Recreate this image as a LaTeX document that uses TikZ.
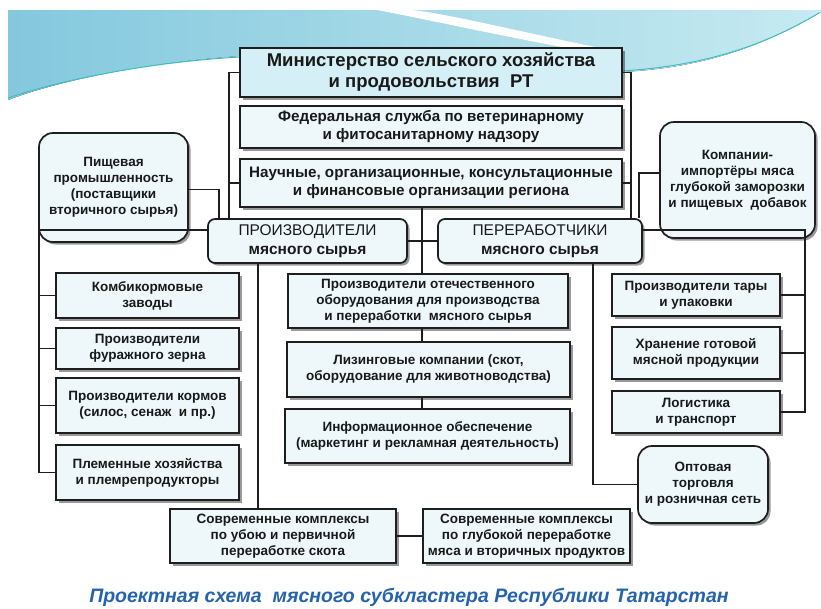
\documentclass[tikz,border=0pt]{standalone}
\usepackage{fontspec}
\setmainfont{Liberation Sans}
\usetikzlibrary{shadows,calc}
\definecolor{boxfill}{HTML}{EEF8FB}
\definecolor{minfill}{HTML}{D4EFF5}
\definecolor{lineclr}{HTML}{1E1E1E}
\definecolor{bandA}{HTML}{84C8DE}
\definecolor{bandB}{HTML}{C6EAF1}
\definecolor{bandline}{HTML}{3FBFC0}
\definecolor{titleclr}{HTML}{2563AE}
\begin{document}
\begin{tikzpicture}[x=1pt,y=-1pt,
 box/.style={draw=lineclr, line width=1.7pt, fill=boxfill, align=center, inner sep=0pt,
   font=\fontsize{13.5}{16}\selectfont\bfseries, text=black!90,
   drop shadow={shadow xshift=2.5pt, shadow yshift=-2.5pt, fill=black, opacity=0.4}},
 bigbox/.style={box, font=\fontsize{15.2}{18}\selectfont\bfseries},
 rbox/.style={box, rounded corners=14pt},
 sbox/.style={box, rounded corners=7pt, font=\fontsize{15.5}{19}\selectfont\bfseries},
 conn/.style={draw=lineclr, line width=1.7pt},
]
\useasboundingbox (0,0) rectangle (821,608);
\fill[white] (0,0) rectangle (821,608);
% decorative band
\fill[left color=bandA, right color=bandB] (8,10) -- (821,10) -- (821,12)
  .. controls (760,48) and (700,68) .. (622,72) -- (240,56)
  .. controls (150,62) and (60,80) .. (8,100) -- cycle;
\fill[white] (377,10) .. controls (430,20) and (500,36) .. (600,54)
  -- (610,50) .. controls (520,32) and (450,14) .. (412,10) -- cycle;
\draw[bandline, line width=1pt] (8,98) .. controls (60,80) and (150,62) .. (240,57);
\draw[bandline, line width=1pt] (622,71) .. controls (700,66) and (760,48) .. (819,13);

% top column
\node[box, fill=minfill, minimum width=382pt, minimum height=49pt,
  font=\fontsize{18.5}{21}\selectfont\bfseries] (min) at (431,72.5)
  {Министерство сельского хозяйства\\и продовольствия~ РТ};
\node[bigbox, minimum width=382pt, minimum height=42pt] (fed) at (431,127)
  {Федеральная служба по ветеринарному\\и фитосанитарному надзору};
\node[bigbox, minimum width=382pt, minimum height=48pt] (nauch) at (431,183)
  {Научные, организационные, консультационные\\и финансовые организации региона};

\node[rbox, minimum width=149pt, minimum height=109pt] (pish) at (113.5,187.5)
  {Пищевая\\промышленность\\(поставщики\\вторичного сырья)};
\node[rbox, minimum width=155pt, minimum height=116pt] (komp) at (737.5,180)
  {Компании-\\импортёры мяса\\глубокой заморозки\\и пищевых~ добавок};

\node[sbox, minimum width=199pt, minimum height=44pt] (proizv) at (307.5,241)
  {{\mdseries ПРОИЗВОДИТЕЛИ}\\мясного сырья};
\node[sbox, minimum width=204pt, minimum height=44pt] (pererab) at (540,241)
  {{\mdseries ПЕРЕРАБОТЧИКИ}\\мясного сырья};

% left column
\node[box, minimum width=183pt, minimum height=45pt] (kombi) at (147.5,295.5)
  {Комбикормовые\\заводы};
\node[box, minimum width=183pt, minimum height=41pt] (furazh) at (147.5,348.5)
  {Производители\\фуражного зерна};
\node[box, minimum width=183pt, minimum height=55pt] (korm) at (147.5,405.5)
  {Производители кормов\\(силос, сенаж~ и пр.)};
\node[box, minimum width=183pt, minimum height=55pt] (plem) at (147.5,472.5)
  {Племенные хозяйства\\и племрепродукторы};

% middle column
\node[box, minimum width=280pt, minimum height=54pt] (obor) at (428,301)
  {Производители отечественного\\оборудования для производства\\и переработки~ мясного сырья};
\node[box, minimum width=283pt, minimum height=55pt] (liz) at (428.5,369.5)
  {Лизинговые компании (скот,\\оборудование для животноводства)};
\node[box, minimum width=285pt, minimum height=54pt] (info) at (427.5,436)
  {Информационное обеспечение\\(маркетинг и рекламная деятельность)};

% right column
\node[box, minimum width=168pt, minimum height=42pt] (tara) at (696,295)
  {Производители тары\\и упаковки};
\node[box, minimum width=168pt, minimum height=52pt] (hran) at (696,353)
  {Хранение готовой\\мясной продукции};
\node[box, minimum width=168pt, minimum height=42pt] (logi) at (696,412)
  {Логистика\\и транспорт};
\node[rbox, minimum width=130pt, minimum height=77pt] (opt) at (703,484.5)
  {Оптовая\\торговля\\и розничная сеть};

% bottom
\node[box, minimum width=226pt, minimum height=54pt] (sov1) at (283,536)
  {Современные комплексы\\по убою и первичной\\переработке скота};
\node[box, minimum width=207pt, minimum height=54pt] (sov2) at (526.5,536)
  {Современные комплексы\\по глубокой переработке\\мяса и вторичных продуктов};

\node[font=\fontsize{19.5}{22}\selectfont\bfseries\itshape, text=titleclr] (title) at (409,597)
  {Проектная схема~ мясного субкластера Республики Татарстан};

% connectors
\coordinate (lbus) at ([xshift=22pt]proizv.north west);
\coordinate (rbus) at ([xshift=-12pt]pererab.north east);
\draw[conn] (min.west) -| (lbus);
\draw[conn] (nauch.west) -- (nauch.west -| lbus);
\draw[conn] (min.east) -| (rbus);
\draw[conn] (nauch.east) -- (nauch.east -| rbus);

\coordinate (cbus) at ([xshift=-9pt]nauch.south);
\draw[conn] (cbus) -- (cbus |- obor.north);
\draw[conn] (cbus |- obor.south) -- (cbus |- liz.north);
\draw[conn] (cbus |- liz.south) -- (cbus |- info.north);

\draw[conn] (proizv.east) -- (pererab.west);
\draw[conn] ([yshift=-2pt]pish.east) -| ([xshift=12pt]proizv.north west);
\draw[conn] ([yshift=7pt]komp.west) -| ([xshift=-4pt]pererab.north east);

\coordinate (lstart) at ([yshift=11pt]proizv.west);
\coordinate (lvert) at ([xshift=-16pt]plem.west);
\draw[conn] (lstart) -| (lvert) -- (plem.west);
\draw[conn] (kombi.west) -- (kombi.west -| lvert);
\draw[conn] (furazh.west) -- (furazh.west -| lvert);
\draw[conn] (korm.west) -- (korm.west -| lvert);

\coordinate (pdown) at ([xshift=-49.5pt]proizv.south);
\draw[conn] (pdown) -- (pdown |- sov1.north);
\draw[conn] (sov1.east) -- (sov2.west);

\coordinate (rstart) at ([yshift=11pt]pererab.east);
\coordinate (rvert) at ([xshift=24pt]logi.east);
\draw[conn] (rstart) -| (rvert) -- (logi.east);
\draw[conn] (tara.east) -- (tara.east -| rvert);
\draw[conn] (hran.east) -- (hran.east -| rvert);

\draw[conn] ([xshift=53pt]pererab.south) |- (opt.west);
\end{tikzpicture}
\end{document}
